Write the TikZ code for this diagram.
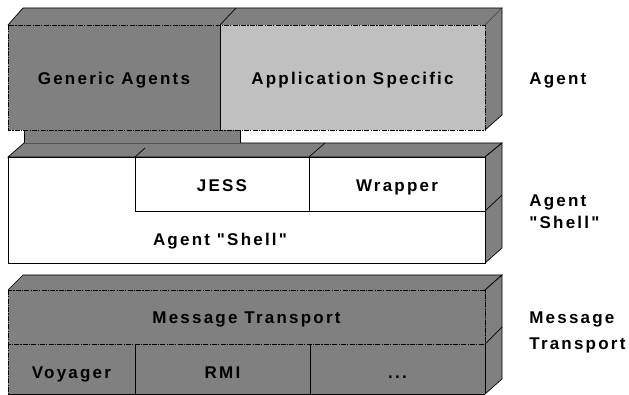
\documentclass[tikz,border=0pt]{standalone}
\usepackage{fontspec}
\setmainfont{Liberation Sans}
\newfontfamily\lblfont[LetterSpace=13]{Liberation Sans Bold}
\definecolor{gdark}{HTML}{808080}
\definecolor{glight}{HTML}{C0C0C0}
\tikzset{
  lbl/.style={font=\lblfont\fontsize{17}{20}\selectfont, inner sep=0pt, text height=12.2pt, text depth=0pt},
  dashface/.style={draw=black, dash pattern=on 5pt off 1.2pt on 1.2pt off 1.2pt},
}
\begin{document}
\begin{tikzpicture}[x=1pt, y=-1pt, line width=0.7pt, line join=miter]
\useasboundingbox (0,0) rectangle (629,395);

% ---- middle block (Agent Shell) ----
\filldraw[fill=gdark] (8,157) -- (24,143) -- (502,143) -- (485,157) -- cycle;
\filldraw[fill=gdark] (485,157) -- (502,143) -- (502,248) -- (485,263) -- cycle;
\draw (485,211) -- (502,195);
\filldraw[fill=white] (8,157) rectangle (485,263);
\draw (135,157) rectangle (309,211);
\draw (309,157) rectangle (485,211);
\draw (135,157) -- (145,148);
\draw (309,157) -- (325,143);

% ---- stem below Generic Agents ----
\fill[gdark] (24,129) rectangle (240,143.4);
\draw (24,130) -- (24,143);
\draw (240,130) -- (240,143);

% ---- top block (Agent) ----
\fill[gdark] (8,25) -- (23,8) -- (502,8) -- (485,25) -- cycle;
\draw (8,25) -- (23,8) -- (502,8) -- (485,25);
\draw (220,25) -- (236,8);
\fill[gdark] (485,25) -- (502,8) -- (502,115) -- (485,130) -- cycle;
\draw (502,8) -- (502,115) -- (485,130);
\fill[gdark] (8,25) rectangle (220,130);
\fill[glight] (220,25) rectangle (485,130);
\draw[dashface] (8,25) rectangle (220,130);
\draw[dashface] (220,25) rectangle (485,130);

% ---- bottom block (Message Transport) ----
\fill[gdark] (8,290) -- (23,275) -- (502,275) -- (485,290) -- cycle;
\draw (8,290) -- (23,275) -- (502,275) -- (485,290);
\filldraw[fill=gdark] (485,290) -- (502,275) -- (502,379) -- (485,394) -- cycle;
\draw (485,344) -- (502,327);
\fill[gdark] (8,290) rectangle (485,394);
\draw[dashface] (8,290) rectangle (485,344);
\draw[dashface] (8,344) -- (8,394);
\draw (135,344) -- (135,394);
\draw (310,344) -- (310,394);
\draw (485,344) -- (485,394);
\draw (8,394) -- (485,394);

% ---- texts ----
\node[lbl] (ga) at (114,78) {Generic Agents};
\node[lbl] (as) at (352.5,78) {Application Specific};
\node[lbl] (jess) at (222,185) {JESS};
\node[lbl] (wr) at (397,185) {Wrapper};
\node[lbl] (sh) at (220,239) {Agent "Shell"};
\node[lbl] (mt) at (246.5,317) {Message Transport};
\node[lbl] (voy) at (71.5,372) {Voyager};
\node[lbl] (rmi) at (222.5,372) {RMI};
\node[lbl] (dots) at (397.5,372) {...};

\node[lbl, anchor=west] (l1) at (529,78) {Agent};
\node[lbl, anchor=west] (l2a) at (529,200) {Agent};
\node[lbl, anchor=west] (l2b) at (529,222) {"Shell"};
\node[lbl, anchor=west] (l3a) at (529,317) {Message};
\node[lbl, anchor=west] (l3b) at (529,343) {Transport};
\end{tikzpicture}
\end{document}
